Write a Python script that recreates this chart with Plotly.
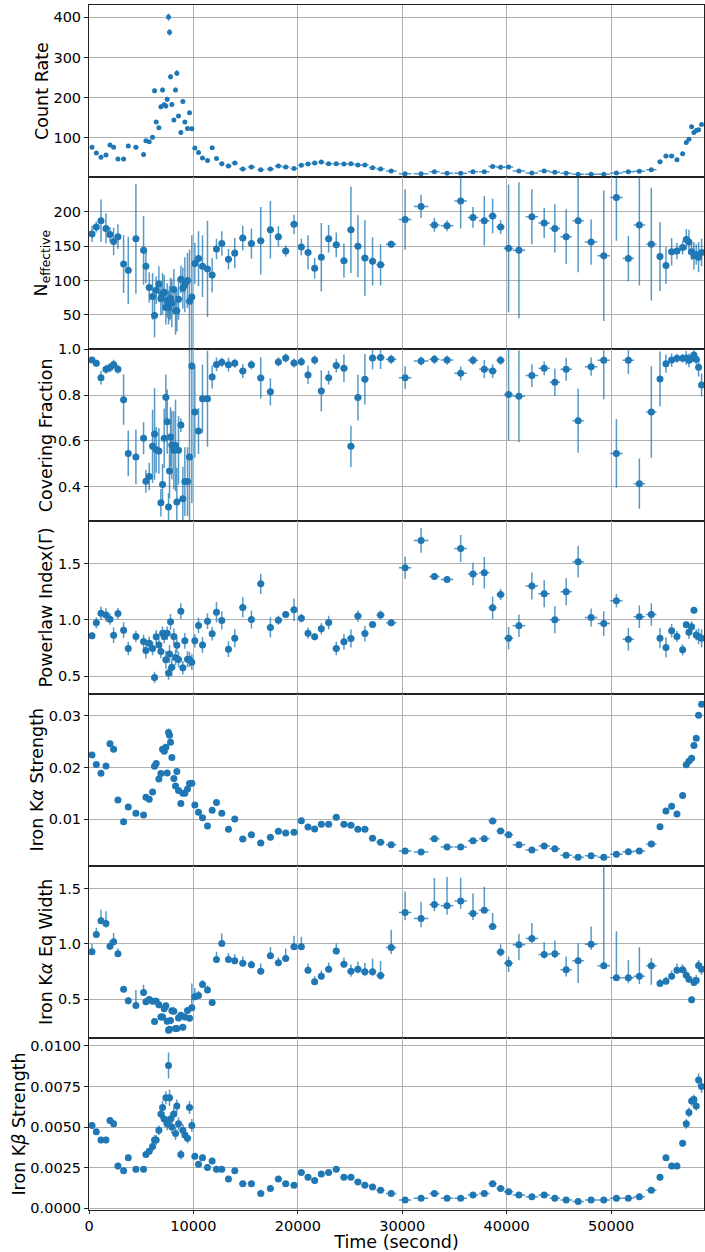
import plotly.graph_objects as go
from plotly.subplots import make_subplots

# time bins (second)
TIME = [287, 701, 1147, 1625, 2008, 2358, 2772, 3314, 3760, 4493,
        5226, 5449, 5768, 6087, 6278, 6437, 6692, 6884, 7043, 7203,
        7362, 7490, 7617, 7713, 7809, 7936, 8128, 8287, 8414, 8574,
        8797, 8988, 9180, 9435, 9626, 9849, 10136, 10487, 10870, 11348,
        11794, 12209, 12719, 13356, 13962, 14727, 15556, 16448, 17373, 18138,
        18839, 19636, 20337, 20975, 21612, 22249, 22950, 23683, 24416, 25086,
        25755, 26424, 27157, 27922, 28942, 30275, 31804, 33078, 34290, 35596,
        36775, 37859, 38656, 39420, 40185, 41175, 42415, 43595, 44614, 45698,
        46845, 48088, 49299, 50510, 51657, 52709, 53856, 54685, 55258, 55800,
        56310, 56854, 57202, 57457, 57712, 57935, 58155, 58381, 58668]

TIME_ERR = [150, 150, 150, 150, 150, 150, 150, 200, 200, 250,
            100, 100, 100, 100, 80, 80, 80, 80, 80, 80,
            60, 60, 50, 50, 50, 60, 80, 80, 60, 80,
            100, 100, 100, 100, 100, 100, 150, 150, 200, 200,
            200, 200, 250, 300, 300, 350, 350, 350, 350, 350,
            350, 350, 300, 300, 300, 300, 350, 350, 350, 350,
            350, 350, 350, 400, 500, 600, 700, 500, 600, 600,
            500, 500, 400, 400, 450, 600, 600, 550, 500, 550,
            550, 600, 600, 600, 550, 550, 500, 250, 250, 250,
            200, 200, 150, 150, 100, 100, 100, 100, 100]

COUNT_RATE = [76, 62, 51, 57, 82, 76, 47, 47, 79, 76,
              58, 92, 90, 101, 217, 139, 125, 177, 219, 182,
              179, 196, 401, 363, 252, 183, 144, 219, 261, 154,
              113, 190, 139, 123, 162, 122, 74, 63, 49, 43,
              75, 48, 35, 29, 37, 22, 27, 20, 22, 29,
              27, 23, 31, 34, 37, 39, 35, 35, 34, 35,
              32, 32, 25, 22, 17, 10, 10, 15, 11, 11,
              15, 15, 28, 26, 27, 17, 12, 17, 14, 11,
              9, 9, 9, 12, 15, 16, 20, 40, 54, 54,
              45, 60, 88, 96, 127, 113, 118, 120, 133]
COUNT_ERR = [3, 3, 3, 3, 3, 3, 3, 3, 3, 3,
             3, 4, 4, 4, 6, 5, 5, 6, 6, 6,
             6, 6, 9, 8, 7, 6, 5, 6, 7, 5,
             5, 6, 5, 5, 5, 5, 3, 3, 3, 3,
             3, 3, 2, 2, 2, 2, 2, 2, 2, 2,
             2, 2, 2, 2, 2, 2, 2, 2, 2, 2,
             2, 2, 2, 2, 2, 1, 1, 1, 1, 1,
             1, 1, 2, 2, 2, 1, 1, 1, 1, 1,
             1, 1, 1, 1, 1, 1, 1, 2, 3, 3,
             3, 3, 4, 4, 5, 4, 4, 4, 5]

N_EFF = [168, 178, 187, 176, 167, 157, 164, 124, 115, 161,
         144, 121, 90, 77, 49, 86, 95, 74, 81, 83,
         61, 71, 61, 67, 74, 67, 87, 56, 56, 73,
         102, 89, 94, 100, 70, 76, 125, 132, 121, 117,
         108, 146, 154, 131, 140, 162, 154, 158, 174, 164,
         143, 182, 149, 141, 118, 134, 161, 152, 129, 174,
         150, 133, 128, 123, 153, 189, 208, 181, 180, 216,
         192, 187, 194, 178, 147, 144, 193, 184, 176, 164,
         187, 156, 136, 221, 132, 181, 153, 135, 122, 142,
         143, 148, 160, 156, 142, 136, 138, 134, 141]
N_EFF_ERR = [12, 8, 31, 22, 11, 20, 18, 42, 49, 80,
             50, 25, 22, 34, 32, 20, 26, 25, 30, 25,
             25, 25, 25, 25, 30, 35, 30, 35, 30, 30,
             20, 30, 40, 40, 75, 90, 30, 40, 45, 70,
             25, 15, 18, 15, 22, 18, 22, 49, 42, 15,
             8, 14, 12, 25, 15, 50, 20, 18, 25, 63,
             45, 55, 35, 30, 5, 44, 17, 10, 8, 40,
             15, 36, 25, 10, 93, 99, 40, 22, 35, 40,
             75, 33, 95, 63, 33, 88, 82, 50, 27, 20,
             12, 10, 15, 18, 12, 20, 15, 22, 20]

COVER = [0.953, 0.939, 0.876, 0.913, 0.92, 0.934, 0.913, 0.78, 0.545, 0.53,
         0.611, 0.423, 0.444, 0.576, 0.63, 0.561, 0.556, 0.33, 0.409, 0.611,
         0.79, 0.684, 0.311, 0.468, 0.617, 0.582, 0.559, 0.58, 0.333, 0.559,
         0.669, 0.347, 0.422, 0.422, 0.53, 0.927, 0.726, 0.643, 0.784, 0.784,
         0.879, 0.934, 0.943, 0.933, 0.939, 0.905, 0.932, 0.875, 0.814, 0.945,
         0.962, 0.94, 0.946, 0.888, 0.953, 0.818, 0.876, 0.929, 0.917, 0.576,
         0.789, 0.869, 0.962, 0.964, 0.956, 0.876, 0.949, 0.956, 0.953, 0.895,
         0.952, 0.913, 0.905, 0.952, 0.803, 0.795, 0.885, 0.917, 0.856, 0.913,
         0.688, 0.924, 0.952, 0.545, 0.952, 0.413, 0.726, 0.87, 0.937, 0.953,
         0.961, 0.961, 0.962, 0.952, 0.961, 0.975, 0.956, 0.921, 0.844]
COVER_ERR = [0.01, 0.015, 0.03, 0.02, 0.02, 0.02, 0.02, 0.11, 0.1, 0.12,
             0.07, 0.05, 0.06, 0.16, 0.2, 0.1, 0.1, 0.06, 0.09, 0.13,
             0.1, 0.14, 0.06, 0.12, 0.13, 0.15, 0.17, 0.2, 0.15, 0.15,
             0.03, 0.14, 0.15, 0.15, 0.5, 0.6, 0.2, 0.1, 0.15, 0.21,
             0.05, 0.03, 0.02, 0.03, 0.02, 0.03, 0.02, 0.09, 0.06, 0.02,
             0.02, 0.02, 0.02, 0.04, 0.02, 0.09, 0.03, 0.03, 0.06, 0.09,
             0.1, 0.11, 0.05, 0.05, 0.02, 0.05, 0.02, 0.02, 0.02, 0.03,
             0.02, 0.04, 0.03, 0.02, 0.2, 0.2, 0.05, 0.03, 0.06, 0.05,
             0.14, 0.04, 0.17, 0.15, 0.06, 0.11, 0.2, 0.12, 0.04, 0.03,
             0.02, 0.02, 0.03, 0.03, 0.02, 0.03, 0.02, 0.04, 0.05]

GAMMA = [0.858, 0.973, 1.059, 1.042, 1.006, 0.863, 1.056, 0.908, 0.745, 0.852,
         0.807, 0.727, 0.792, 0.745, 0.487, 0.849, 0.777, 0.718, 0.881, 0.852,
         0.644, 0.881, 0.528, 0.697, 0.982, 0.579, 0.852, 0.665, 0.774, 0.647,
         1.077, 0.573, 0.813, 0.65, 0.647, 0.623, 0.813, 0.95, 0.777, 0.988,
         0.875, 1.068, 0.994, 0.739, 0.837, 1.11, 1.003, 1.32, 0.932, 0.997,
         1.047, 1.089, 1.015, 0.881, 0.849, 0.92, 0.976, 0.745, 0.804, 0.834,
         1.033, 0.878, 0.958, 1.042, 0.973, 1.463, 1.706, 1.386, 1.359, 1.635,
         1.407, 1.418, 1.107, 1.226, 0.837, 0.947, 1.3, 1.231, 1.0, 1.249,
         1.516, 1.021, 0.967, 1.169, 0.828, 1.027, 1.047, 0.837, 0.754, 0.902,
         0.852, 0.733, 0.955, 0.89, 0.938, 1.086, 0.866, 0.852, 0.837]
GAMMA_ERR = [0.03, 0.05, 0.06, 0.06, 0.05, 0.07, 0.05, 0.07, 0.06, 0.05,
             0.06, 0.07, 0.06, 0.06, 0.05, 0.06, 0.06, 0.06, 0.06, 0.06,
             0.08, 0.06, 0.06, 0.08, 0.07, 0.08, 0.07, 0.07, 0.07, 0.07,
             0.07, 0.06, 0.07, 0.07, 0.07, 0.07, 0.06, 0.07, 0.07, 0.07,
             0.06, 0.09, 0.08, 0.07, 0.08, 0.09, 0.08, 0.09, 0.09, 0.04,
             0.02, 0.1, 0.04, 0.05, 0.03, 0.05, 0.06, 0.06, 0.07, 0.08,
             0.05, 0.07, 0.03, 0.04, 0.03, 0.1, 0.11, 0.03, 0.02, 0.12,
             0.1, 0.14, 0.1, 0.05, 0.1, 0.1, 0.12, 0.12, 0.12, 0.12,
             0.14, 0.08, 0.11, 0.06, 0.1, 0.1, 0.1, 0.09, 0.09, 0.06,
             0.05, 0.05, 0.03, 0.06, 0.05, 0.03, 0.05, 0.07, 0.08]

KA_STRENGTH = [0.02245, 0.02058, 0.0189, 0.02032, 0.02458, 0.02355, 0.01374, 0.00955, 0.01239, 0.01116,
               0.01084, 0.01426, 0.01387, 0.01529, 0.02026, 0.02077, 0.01781, 0.01884, 0.02355, 0.02316,
               0.02394, 0.01897, 0.02677, 0.02626, 0.0249, 0.02194, 0.01787, 0.01645, 0.01923, 0.01555,
               0.01303, 0.01503, 0.01503, 0.01587, 0.0169, 0.01697, 0.01277, 0.01135, 0.01032, 0.00871,
               0.01174, 0.01323, 0.01116, 0.00806, 0.01006, 0.0062, 0.00703, 0.00542, 0.00652, 0.00768,
               0.00735, 0.00748, 0.00974, 0.00852, 0.00813, 0.00903, 0.00903, 0.01039, 0.00903, 0.00884,
               0.00806, 0.00806, 0.00632, 0.00555, 0.0051, 0.00387, 0.00368, 0.00626, 0.00465, 0.00465,
               0.00587, 0.00626, 0.00968, 0.00774, 0.00703, 0.0051, 0.00406, 0.00484, 0.00432, 0.00303,
               0.00265, 0.00297, 0.00265, 0.00323, 0.00374, 0.00387, 0.00523, 0.00858, 0.01161, 0.01252,
               0.01103, 0.01458, 0.02052, 0.02123, 0.02181, 0.02426, 0.02568, 0.03013, 0.03226]
KA_STRENGTH_ERR = [0.0004, 0.0004, 0.0004, 0.0004, 0.0004, 0.0004, 0.0003, 0.0003, 0.0003, 0.0003,
                   0.0003, 0.0004, 0.0004, 0.0004, 0.0004, 0.0004, 0.0004, 0.0004, 0.0005, 0.0005,
                   0.0005, 0.0005, 0.0008, 0.0006, 0.0005, 0.0005, 0.0004, 0.0004, 0.0005, 0.0004,
                   0.0004, 0.0004, 0.0004, 0.0004, 0.0004, 0.0004, 0.0003, 0.0003, 0.0003, 0.0003,
                   0.0003, 0.0003, 0.0003, 0.0003, 0.0003, 0.0002, 0.0002, 0.0002, 0.0002, 0.0002,
                   0.0002, 0.0002, 0.0002, 0.0002, 0.0002, 0.0002, 0.0002, 0.0002, 0.0002, 0.0002,
                   0.0002, 0.0002, 0.0002, 0.0002, 0.0002, 0.0002, 0.0002, 0.0002, 0.0002, 0.0002,
                   0.0002, 0.0002, 0.0002, 0.0002, 0.0002, 0.0002, 0.0002, 0.0002, 0.0002, 0.0002,
                   0.0002, 0.0002, 0.0002, 0.0002, 0.0002, 0.0002, 0.0002, 0.0003, 0.0003, 0.0003,
                   0.0003, 0.0003, 0.0004, 0.0004, 0.0004, 0.0004, 0.0004, 0.0005, 0.0005]

KA_EQW = [0.928, 1.084, 1.208, 1.184, 0.979, 1.018, 0.91, 0.59, 0.485, 0.443,
          0.56, 0.476, 0.497, 0.482, 0.298, 0.482, 0.449, 0.34, 0.34, 0.413,
          0.44, 0.301, 0.22, 0.229, 0.307, 0.395, 0.392, 0.235, 0.235, 0.331,
          0.355, 0.247, 0.34, 0.398, 0.328, 0.422, 0.521, 0.533, 0.633, 0.584,
          0.47, 0.858, 1.003, 0.858, 0.846, 0.825, 0.81, 0.753, 0.892, 0.828,
          0.867, 0.973, 0.973, 0.762, 0.657, 0.708, 0.771, 0.934, 0.816, 0.753,
          0.771, 0.747, 0.747, 0.714, 0.967, 1.283, 1.229, 1.355, 1.343, 1.386,
          1.274, 1.304, 1.157, 0.925, 0.825, 0.991, 1.048, 0.904, 0.91, 0.765,
          0.846, 0.997, 0.801, 0.693, 0.693, 0.708, 0.801, 0.642, 0.663, 0.708,
          0.762, 0.765, 0.717, 0.681, 0.494, 0.651, 0.669, 0.804, 0.771]
KA_EQW_ERR_UP = [0.07, 0.06, 0.1, 0.11, 0.05, 0.08, 0.05, 0.03, 0.03, 0.14,
                 0.07, 0.03, 0.03, 0.03, 0.03, 0.03, 0.03, 0.03, 0.03, 0.03,
                 0.03, 0.03, 0.03, 0.03, 0.03, 0.03, 0.04, 0.03, 0.03, 0.03,
                 0.03, 0.03, 0.03, 0.03, 0.03, 0.22, 0.08, 0.04, 0.04, 0.04,
                 0.03, 0.07, 0.09, 0.06, 0.06, 0.06, 0.04, 0.07, 0.08, 0.05,
                 0.09, 0.1, 0.09, 0.06, 0.05, 0.05, 0.06, 0.07, 0.06, 0.06,
                 0.07, 0.08, 0.12, 0.13, 0.16, 0.19, 0.15, 0.24, 0.26, 0.21,
                 0.18, 0.21, 0.12, 0.07, 0.06, 0.1, 0.14, 0.11, 0.12, 0.12,
                 0.16, 0.16, 1.0, 0.42, 0.16, 0.26, 0.07, 0.04, 0.04, 0.05,
                 0.06, 0.05, 0.05, 0.05, 0.03, 0.05, 0.05, 0.05, 0.05]
KA_EQW_ERR_DN = [0.03, 0.03, 0.03, 0.04, 0.03, 0.03, 0.03, 0.03, 0.03, 0.01,
                 0.03, 0.03, 0.03, 0.03, 0.03, 0.03, 0.03, 0.03, 0.03, 0.03,
                 0.03, 0.03, 0.03, 0.03, 0.03, 0.03, 0.03, 0.03, 0.03, 0.03,
                 0.03, 0.03, 0.03, 0.03, 0.03, 0.03, 0.03, 0.03, 0.03, 0.03,
                 0.03, 0.03, 0.03, 0.03, 0.03, 0.03, 0.03, 0.03, 0.03, 0.03,
                 0.03, 0.03, 0.03, 0.03, 0.03, 0.03, 0.03, 0.03, 0.03, 0.05,
                 0.04, 0.04, 0.04, 0.04, 0.06, 0.07, 0.08, 0.06, 0.08, 0.07,
                 0.06, 0.02, 0.02, 0.04, 0.08, 0.14, 0.04, 0.04, 0.04, 0.06,
                 0.2, 0.05, 0.02, 0.02, 0.05, 0.07, 0.17, 0.03, 0.03, 0.03,
                 0.03, 0.03, 0.03, 0.03, 0.03, 0.03, 0.03, 0.03, 0.05]

KB_STRENGTH = [0.0051, 0.0047, 0.0042, 0.0042, 0.0054, 0.0052, 0.0026, 0.0023, 0.0031, 0.0024,
               0.0024, 0.0033, 0.0035, 0.0038, 0.0042, 0.0042, 0.0048, 0.0058, 0.0062, 0.0055,
               0.0068, 0.0052, 0.0088, 0.0068, 0.0055, 0.005, 0.0058, 0.0046, 0.0063, 0.0052,
               0.0033, 0.0048, 0.0045, 0.0043, 0.0062, 0.0051, 0.0032, 0.0027, 0.0031, 0.0025,
               0.0029, 0.0024, 0.0024, 0.0018, 0.0023, 0.0015, 0.0015, 0.0009, 0.0012, 0.0018,
               0.0015, 0.0014, 0.0022, 0.0019, 0.0017, 0.0021, 0.0022, 0.0024, 0.0019, 0.0019,
               0.0016, 0.0014, 0.0013, 0.0011, 0.0009, 0.0005, 0.0006, 0.0009, 0.0006, 0.0006,
               0.0008, 0.0009, 0.0015, 0.0012, 0.001, 0.0008, 0.0007, 0.0008, 0.0006, 0.0005,
               0.0004, 0.0005, 0.0005, 0.0006, 0.0006, 0.0007, 0.0011, 0.0019, 0.0031, 0.0026,
               0.0026, 0.004, 0.0052, 0.0059, 0.0066, 0.0067, 0.0063, 0.0079, 0.0075]
KB_STRENGTH_ERR = [0.0002, 0.0002, 0.0002, 0.0002, 0.0002, 0.0002, 0.0002, 0.0002, 0.0002, 0.0002,
                   0.0002, 0.0002, 0.0002, 0.0003, 0.0003, 0.0003, 0.0003, 0.0003, 0.0004, 0.0004,
                   0.0004, 0.0004, 0.0008, 0.0005, 0.0004, 0.0004, 0.0004, 0.0004, 0.0004, 0.0004,
                   0.0003, 0.0004, 0.0003, 0.0003, 0.0004, 0.0004, 0.0002, 0.0002, 0.0002, 0.0002,
                   0.0002, 0.0002, 0.0002, 0.0001, 0.0001, 0.0001, 0.0001, 0.0001, 0.0001, 0.0001,
                   0.0001, 0.0001, 0.0001, 0.0001, 0.0001, 0.0001, 0.0001, 0.0001, 0.0001, 0.0001,
                   0.0001, 0.0001, 0.0001, 0.0001, 0.0001, 0.0001, 0.0001, 0.0001, 0.0001, 0.0001,
                   0.0001, 0.0001, 0.0001, 0.0001, 0.0001, 0.0001, 0.0001, 0.0001, 0.0001, 0.0001,
                   0.0001, 0.0001, 0.0001, 0.0001, 0.0001, 0.0001, 0.0001, 0.0002, 0.0002, 0.0002,
                   0.0002, 0.0002, 0.0003, 0.0003, 0.0003, 0.0003, 0.0003, 0.0004, 0.0004]

BLUE = "#1f77b4"
BAR = "rgba(31,119,180,0.75)"

panels = [
    dict(y=COUNT_RATE, up=COUNT_ERR, dn=COUNT_ERR, title="Count Rate",
         rng=[1.5, 431], tickvals=[100, 200, 300, 400], ticktext=None, size=5),
    dict(y=N_EFF, up=N_EFF_ERR, dn=N_EFF_ERR, title="N<sub>effective</sub>",
         rng=[0, 250.6], tickvals=[50, 100, 150, 200], ticktext=None, size=7),
    dict(y=COVER, up=COVER_ERR, dn=COVER_ERR, title="Covering Fraction",
         rng=[0.248, 1.0], tickvals=[0.4, 0.6, 0.8, 1.0],
         ticktext=["0.4", "0.6", "0.8", "1.0"], size=7),
    dict(y=GAMMA, up=GAMMA_ERR, dn=GAMMA_ERR, title="Powerlaw Index(Γ)",
         rng=[0.344, 1.875], tickvals=[0.5, 1.0, 1.5],
         ticktext=["0.5", "1.0", "1.5"], size=7),
    dict(y=KA_STRENGTH, up=KA_STRENGTH_ERR, dn=KA_STRENGTH_ERR, title="Iron K<i>α</i> Strength",
         rng=[0.00103, 0.0343], tickvals=[0.01, 0.02, 0.03],
         ticktext=["0.01", "0.02", "0.03"], size=7),
    dict(y=KA_EQW, up=KA_EQW_ERR_UP, dn=KA_EQW_ERR_DN, title="Iron K<i>α</i> Eq Width",
         rng=[0.151, 1.705], tickvals=[0.5, 1.0, 1.5],
         ticktext=["0.5", "1.0", "1.5"], size=7),
    dict(y=KB_STRENGTH, up=KB_STRENGTH_ERR, dn=KB_STRENGTH_ERR, title="Iron K<i>β</i> Strength",
         rng=[-0.00012, 0.0105], tickvals=[0.0, 0.0025, 0.005, 0.0075, 0.01],
         ticktext=["0.0000", "0.0025", "0.0050", "0.0075", "0.0100"], size=7),
]

fig = make_subplots(rows=7, cols=1, shared_xaxes=True, vertical_spacing=0)

for i, p in enumerate(panels, start=1):
    fig.add_trace(go.Scatter(
        x=TIME, y=p["y"], mode="markers",
        marker=dict(color=BLUE, size=p["size"]),
        error_y=dict(type="data", symmetric=False, array=p["up"], arrayminus=p["dn"],
                     color=BAR, thickness=1.5, width=0),
        error_x=dict(type="data", array=TIME_ERR, color=BAR, thickness=1.5, width=0),
        showlegend=False), row=i, col=1)
    fig.update_yaxes(
        row=i, col=1, range=p["rng"], tickvals=p["tickvals"], ticktext=p["ticktext"],
        title=dict(text=p["title"], font=dict(size=17.5, color="black"), standoff=0),
        automargin=False,
        showgrid=True, gridcolor="#b0b0b0", gridwidth=1, zeroline=False,
        showline=True, linecolor="#222", linewidth=1, mirror=True,
        ticks="outside", ticklen=4, tickcolor="#222",
        tickfont=dict(size=14.5, color="black"))
    fig.update_xaxes(
        row=i, col=1, range=[0, 58900], tickvals=[0, 10000, 20000, 30000, 40000, 50000],
        tickformat="d", automargin=False,
        showgrid=True, gridcolor="#b0b0b0", gridwidth=1, zeroline=False,
        showline=True, linecolor="#222", linewidth=1, mirror=True,
        ticks="", tickfont=dict(size=14.5, color="black"))

fig.update_xaxes(row=7, col=1, ticks="outside", ticklen=3, tickcolor="#222",
                 title=dict(text="Time (second)", font=dict(size=17.5, color="black"),
                            standoff=4))

fig.update_layout(
    width=705, height=1252,
    margin=dict(l=89, r=1, t=5, b=42),
    paper_bgcolor="white", plot_bgcolor="white",
    font=dict(family="DejaVu Sans", color="black"),
)

fig.write_html("out.html", config={"displayModeBar": False},
               post_script="document.body.style.margin='0';")
